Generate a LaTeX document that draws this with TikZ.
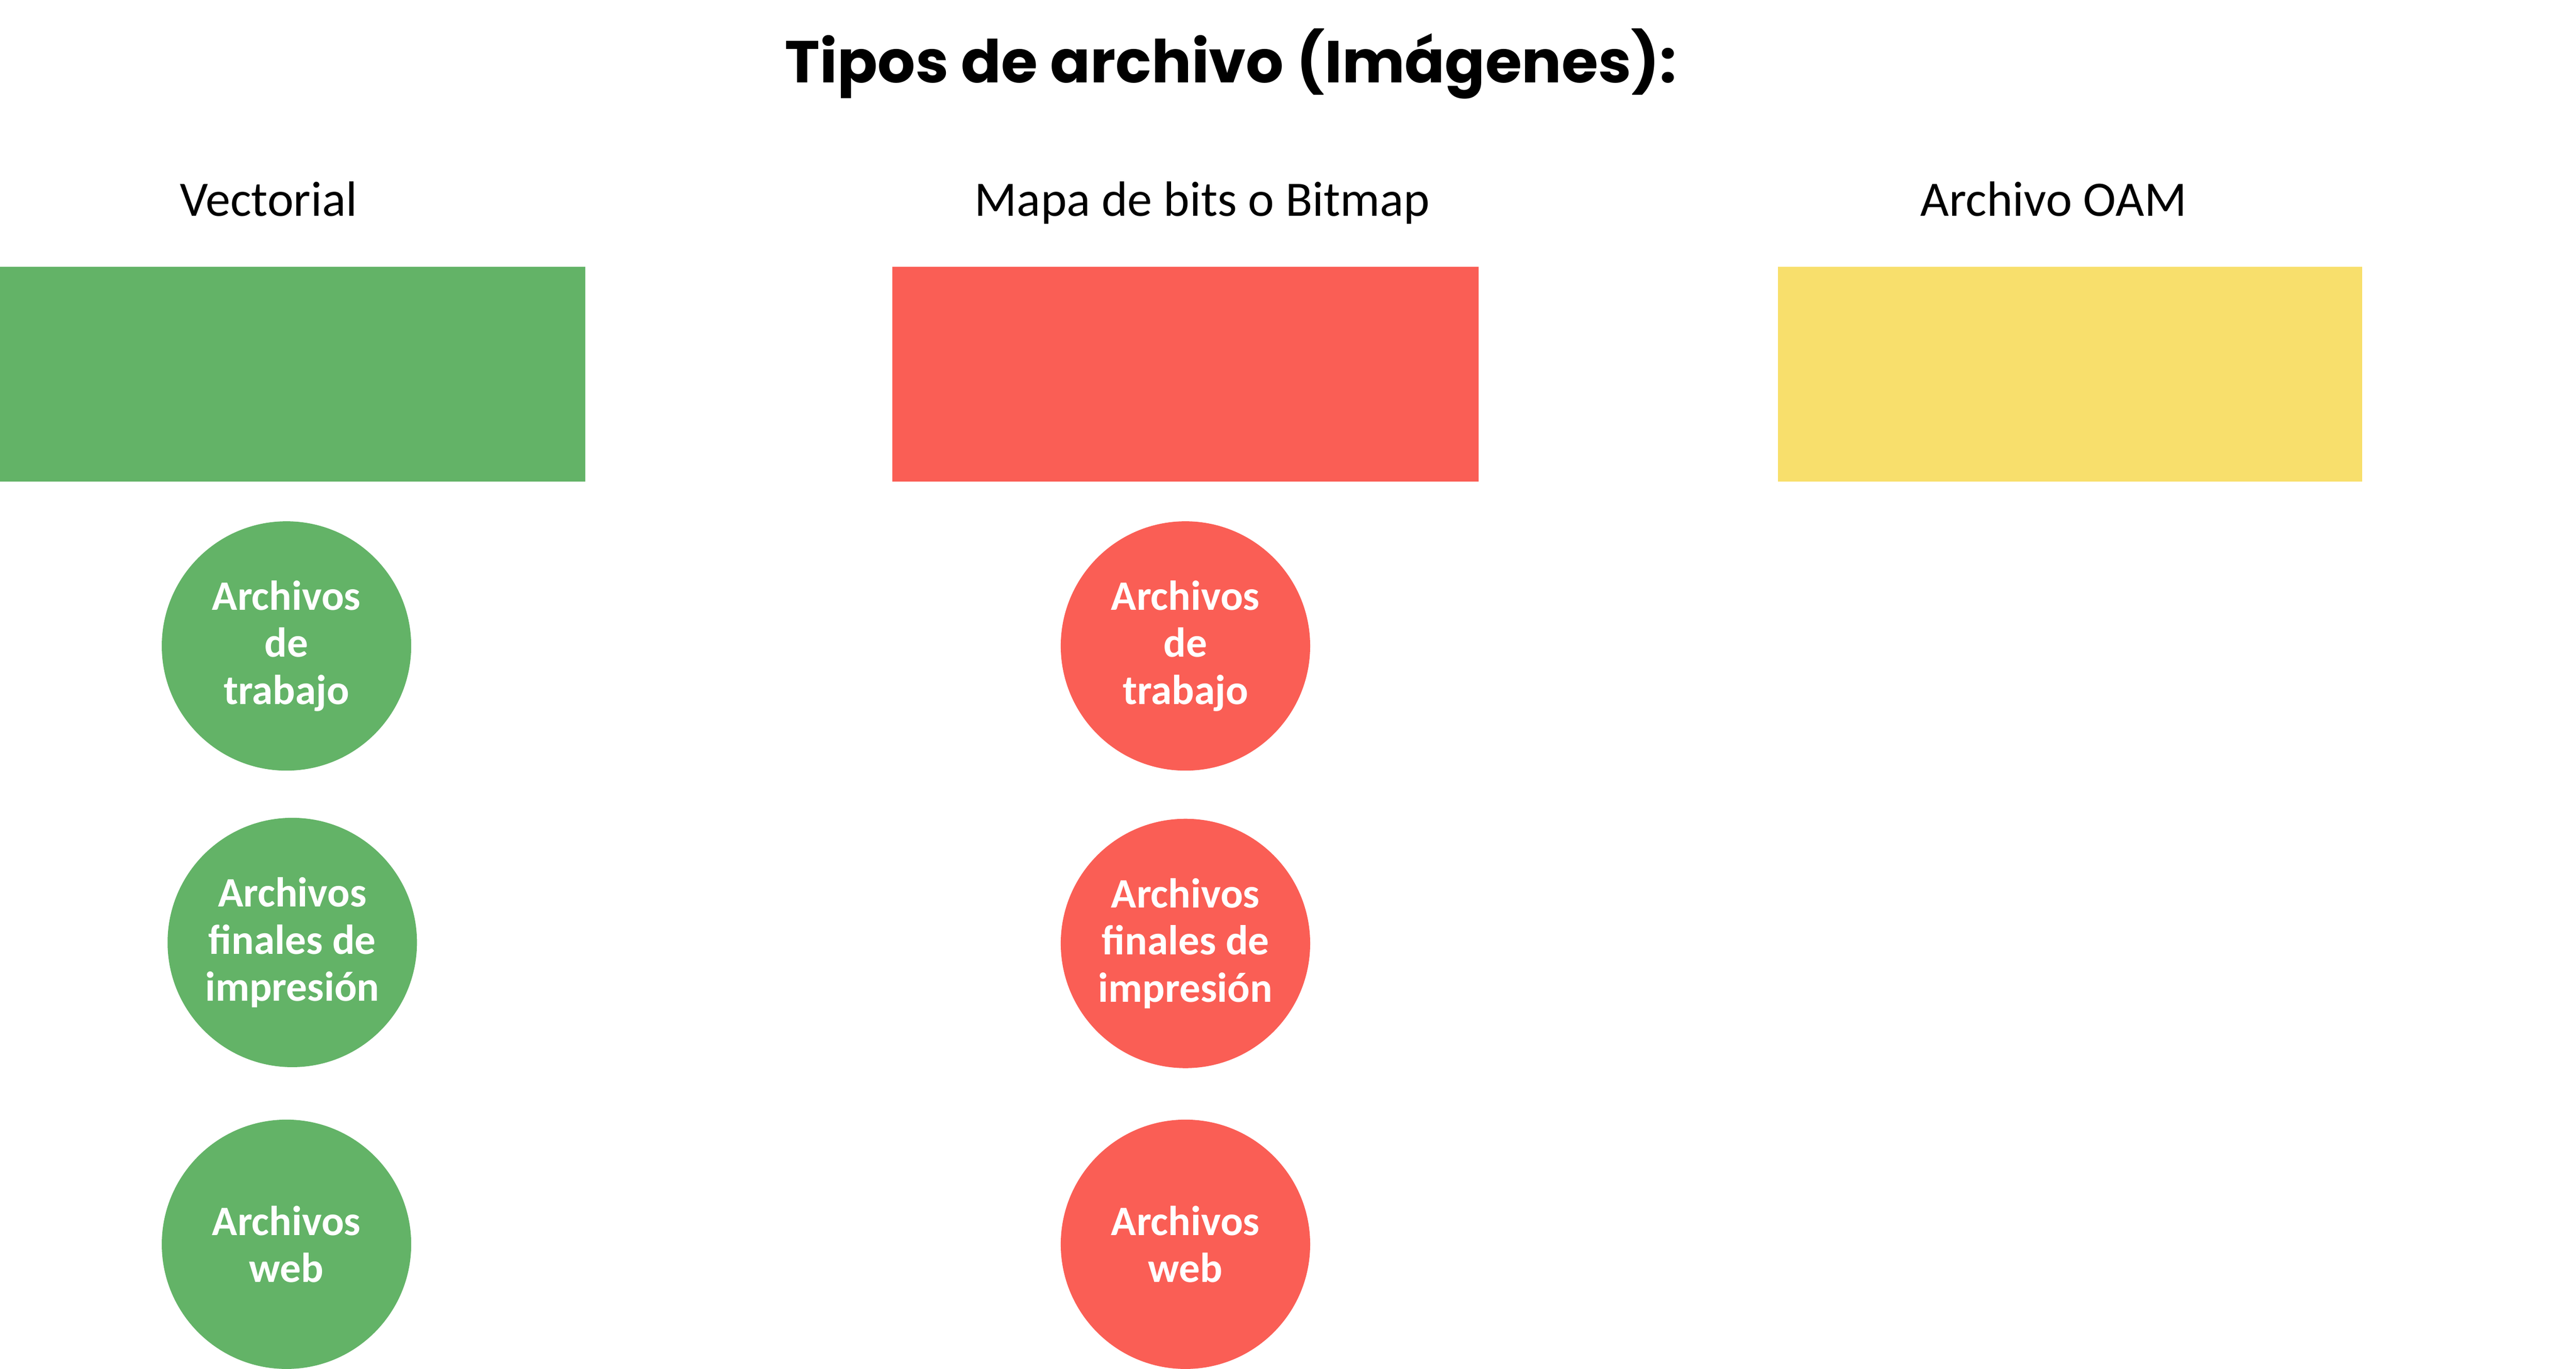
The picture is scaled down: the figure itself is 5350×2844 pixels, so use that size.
\documentclass[tikz,border=0pt]{standalone}
\usepackage{fontspec}
\setmainfont{Carlito}
\newfontfamily\titlefont{Poppins}
\definecolor{vecgreen}{RGB}{99,179,103}
\definecolor{bitred}{RGB}{250,94,85}
\definecolor{oamyellow}{RGB}{248,223,108}

\begin{document}
\begin{tikzpicture}[x=0.1pt,y=0.1pt,yscale=-1,xscale=1,
        heading/.style={anchor=base,inner sep=0pt,font=\fontsize{10.3}{12}\selectfont},
        colbox/.style={draw=none,minimum height=44.6pt,inner sep=0pt},
        filecircle/.style={circle,draw=none,minimum size=51.8pt,inner sep=0pt,align=center,text=white,font=\fontsize{8.7}{9.8}\selectfont\bfseries}]
        \useasboundingbox (0,0) rectangle (5350,2844);

        % Text Node
        \node [anchor=base,inner sep=0pt,font=\titlefont\fontsize{12.3}{14}\selectfont\bfseries] (title) at (2556,172) {Tipos de archivo (Imágenes):};

        % Text Node
        \node [heading] (vectorial) at (558,449) {Vectorial};
        % Text Node
        \node [heading] (bitmap) at (2497,449) {Mapa de bits o Bitmap};
        % Text Node
        \node [heading] (oam) at (4265,449) {Archivo OAM};

        %Shape: Rectangle
        \node [colbox,fill=vecgreen,minimum width=121.5pt] (vecbox) at (607.5,777) {};
        %Shape: Rectangle
        \node [colbox,fill=bitred,minimum width=121.8pt] (bitbox) at (2462,777) {};
        %Shape: Rectangle
        \node [colbox,fill=oamyellow,minimum width=121.4pt] (oambox) at (4299,777) {};

        %Shape: Circle
        \node [filecircle,fill=vecgreen] (vectrabajo) at (595,1342) {Archivos\\de\\trabajo};
        %Shape: Circle
        \node [filecircle,fill=vecgreen] (vecimpresion) at (607,1958) {Archivos\\finales de\\impresión};
        %Shape: Circle
        \node [filecircle,fill=vecgreen] (vecweb) at (595,2585) {Archivos\\web};

        %Shape: Circle
        \node [filecircle,fill=bitred] (bittrabajo) at (2462,1342) {Archivos\\de\\trabajo};
        %Shape: Circle
        \node [filecircle,fill=bitred] (bitimpresion) at (2462,1960) {Archivos\\finales de\\impresión};
        %Shape: Circle
        \node [filecircle,fill=bitred] (bitweb) at (2462,2585) {Archivos\\web};

\end{tikzpicture}
\end{document}
